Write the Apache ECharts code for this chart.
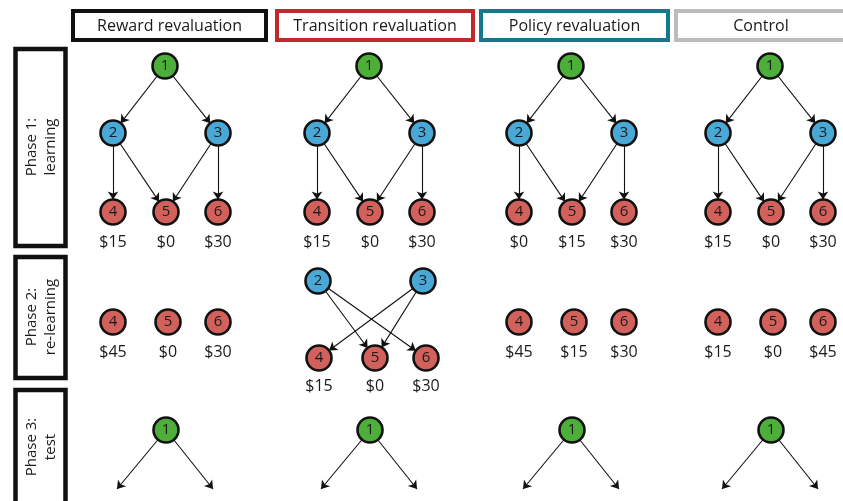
<!DOCTYPE html>
<html>
<head>
<meta charset="utf-8">
<script src="https://cdn.jsdelivr.net/npm/echarts@6/dist/echarts.min.js"></script>
<style>
html,body{margin:0;padding:0;background:#fff;}
#main{width:843px;height:501px;}
</style>
</head>
<body>
<div id="main"></div>
<script>
// ---- data ----
const conditions = ['Reward revaluation', 'Transition revaluation', 'Policy revaluation', 'Control'];
const phases = ['Phase 1:\nlearning', 'Phase 2:\nre-learning', 'Phase 3:\ntest'];
const learningStates = [1, 2, 3, 4, 5, 6];
const learningEdges = [[1, 2], [1, 3], [2, 4], [2, 5], [3, 5], [3, 6]];
const learningRewards = [[15, 0, 30], [15, 0, 30], [0, 15, 30], [15, 0, 30]];
const relearningStates = [[4, 5, 6], [2, 3, 4, 5, 6], [4, 5, 6], [4, 5, 6]];
const relearningEdges = [[], [[2, 5], [2, 6], [3, 4], [3, 5]], [], []];
const relearningRewards = [[45, 0, 30], [15, 0, 30], [45, 15, 30], [15, 0, 45]];
const testStates = [1];
const testEdges = [[1, 'left'], [1, 'right']];

// ---- layout (pixel-like units on hidden axes) ----
const colX = [165, 369, 571, 770];
const layout = {
  learn: {1: [0, 66], 2: [-52, 133], 3: [53, 133], 4: [-52, 212], 5: [1, 212], 6: [53, 212], rewardY: 242},
  relearn: {4: [-52, 322], 5: [3, 322], 6: [53, 322], rewardY: 352},
  relearnT: {2: [-51, 281], 3: [54, 281], 4: [-50, 358], 5: [6, 358], 6: [57, 358], rewardY: 386},
  test: {1: [1, 430], left: [-48, 489], right: [48, 489]}
};
const stateColor = s => s === 1 ? '#4daf3a' : (s <= 3 ? '#4aa8d6' : '#d2615c');

const nodes = [];
const links = [];
const rewardPts = [];

function addNode(id, s, pos) {
  if (typeof s === 'number') {
    nodes.push({name: id, value: pos, symbolSize: 25, state: s,
      itemStyle: {color: stateColor(s)}});
  } else {
    nodes.push({name: id, value: pos, symbolSize: 0, state: '',
      itemStyle: {opacity: 0}, label: {show: false}});
  }
}

conditions.forEach((c, ci) => {
  const cx = colX[ci];
  // phase 1
  learningStates.forEach(s => {
    const p = layout.learn[s];
    addNode('p1-' + ci + '-' + s, s, [cx + p[0], p[1]]);
  });
  learningEdges.forEach(e => links.push({source: 'p1-' + ci + '-' + e[0], target: 'p1-' + ci + '-' + e[1]}));
  [4, 5, 6].forEach((s, k) => {
    const p = layout.learn[s];
    rewardPts.push([cx + p[0], layout.learn.rewardY, '$' + learningRewards[ci][k]]);
  });
  // phase 2
  const L = relearningEdges[ci].length ? layout.relearnT : layout.relearn;
  relearningStates[ci].forEach(s => {
    const p = L[s];
    addNode('p2-' + ci + '-' + s, s, [cx + p[0], p[1]]);
  });
  relearningEdges[ci].forEach(e => links.push({source: 'p2-' + ci + '-' + e[0], target: 'p2-' + ci + '-' + e[1]}));
  [4, 5, 6].forEach((s, k) => {
    const p = L[s];
    rewardPts.push([cx + p[0], L.rewardY, '$' + relearningRewards[ci][k]]);
  });
  // phase 3
  testStates.forEach(s => {
    const p = layout.test[s];
    addNode('p3-' + ci + '-' + s, s, [cx + p[0], p[1]]);
  });
  ['left', 'right'].forEach(k => {
    const p = layout.test[k];
    addNode('p3-' + ci + '-' + k, k, [cx + p[0], p[1]]);
  });
  testEdges.forEach(e => links.push({source: 'p3-' + ci + '-' + e[0], target: 'p3-' + ci + '-' + e[1]}));
});

// ---- decorations: headers & phase boxes ----
const FONT = 'Open Sans';
const headerBoxes = [[73, 193, '#111111'], [277, 196, '#c1272d'], [481, 187, '#127a8a'], [676, 170, '#bcbcbc']];
const phaseBoxes = [[49, 197, 147], [257, 121, 317], [390, 140, 447]];
const graphics = [];
conditions.forEach((c, i) => {
  const b = headerBoxes[i];
  graphics.push({type: 'rect', shape: {x: b[0], y: 11, width: b[1], height: 29},
    style: {fill: '#fff', stroke: b[2], lineWidth: 4}, z: 1});
  graphics.push({type: 'text', x: b[0] + b[1] / 2, y: 26,
    style: {text: c, fill: '#1a1a1a', font: '16px "' + FONT + '"', align: 'center', verticalAlign: 'middle'}, z: 2});
});
phases.forEach((ph, i) => {
  const b = phaseBoxes[i];
  graphics.push({type: 'rect', shape: {x: 15.5, y: b[0], width: 50, height: b[1]},
    style: {fill: '#fff', stroke: '#111', lineWidth: 4.5}, z: 1});
  graphics.push({type: 'text', x: 41, y: b[2], rotation: Math.PI / 2,
    style: {text: ph, fill: '#1a1a1a', font: '15px "' + FONT + '"', align: 'center', verticalAlign: 'middle', lineHeight: 19}, z: 2});
});

const chart = echarts.init(document.getElementById('main'), null, {renderer: 'canvas'});
chart.setOption({
  backgroundColor: '#fff',
  animation: false,
  graphic: graphics,
  grid: {left: 0, right: 0, top: 0, bottom: 0},
  xAxis: {type: 'value', min: 0, max: 843, show: false},
  yAxis: {type: 'value', min: 0, max: 501, inverse: true, show: false},
  series: [
    {
      type: 'graph',
      coordinateSystem: 'cartesian2d',
      layout: 'none',
      data: nodes,
      links: links,
      symbol: 'circle',
      edgeSymbol: ['none', 'arrow'],
      edgeSymbolSize: [0, 8],
      itemStyle: {borderColor: '#111', borderWidth: 2.6},
      lineStyle: {color: '#111', width: 1.1, opacity: 1, curveness: 0},
      label: {show: true, position: 'inside', color: '#1a1a1a', fontSize: 15, fontFamily: FONT,
        formatter: p => String(p.data.state)},
      emphasis: {disabled: true},
      z: 3
    },
    {
      type: 'scatter',
      data: rewardPts,
      symbolSize: 0,
      itemStyle: {color: '#ffffff'},
      label: {show: true, position: 'inside', color: '#1a1a1a', opacity: 1, fontSize: 16, fontFamily: FONT,
        formatter: p => p.value[2]},
      emphasis: {disabled: true},
      z: 3
    }
  ]
});
</script>
</body>
</html>
